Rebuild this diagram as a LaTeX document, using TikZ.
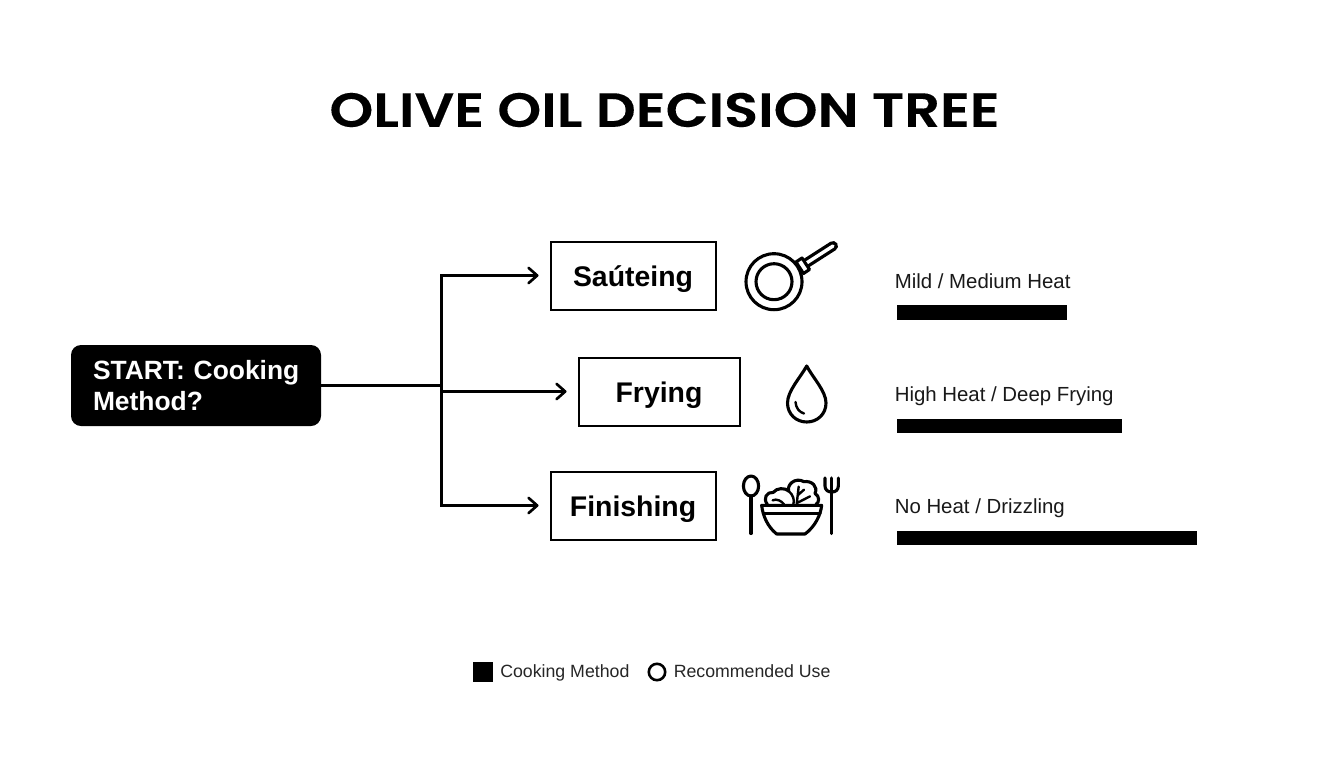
\documentclass[tikz,border=0pt]{standalone}
\usepackage{fontspec}
\setmainfont{Liberation Sans}
\newfontfamily\titlefont[FakeStretch=1.165,FakeBold=0.15]{Poppins SemiBold}
\newfontfamily\boxfont{Liberation Sans}
\usetikzlibrary{arrows.meta,calc}
\tikzset{
 page/.style={x=0.75pt,y=-0.75pt},
 method/.style={draw=black,line width=2pt*0.75,fill=white,inner sep=0pt,text=black,text height=20pt,text depth=4pt,font=\boxfont\bfseries\fontsize{21.3}{24}\selectfont},
 link/.style={line width=2.5pt*0.75,draw=black},
 arrowlink/.style={link,-{Straight Barb[length=6.5pt,width=11.5pt,line width=2pt,round]},shorten >=11*0.75pt},
 heat/.style={anchor=base west,inner sep=0pt,font=\fontsize{15.3}{18}\selectfont,text=black!90},
 bar/.style={fill=black,draw=none},
 icon/.style={draw=black,line width=3.1pt*0.75,line cap=round,line join=round},
 thinicon/.style={icon,line width=2.4pt*0.75},
 legendtext/.style={anchor=base west,inner sep=0pt,font=\fontsize{13.3}{16}\selectfont,text=black!85},
}
\begin{document}
\begin{tikzpicture}[page]
\useasboundingbox (0,0) rectangle (1344,768);
\fill[white] (0,0) rectangle (1344,768);
\node[font=\titlefont\fontsize{36}{42}\selectfont,inner sep=0pt] (title) at (664.5,110) {OLIVE OIL DECISION TREE};
\node[fill=black,rounded corners=7.5pt,minimum width=250*0.75pt,minimum height=81*0.75pt,inner sep=0pt,text=white,text width=154.5pt,font=\boxfont\bfseries\fontsize{19.8}{23.25}\selectfont,align=left] (start) at (196,385.5) {\mbox{START: Cooking}\\Method?};
\node[method,minimum width=165*0.75pt,minimum height=68*0.75pt] (saute) at (633,275.5) {Saúteing};
\node[method,minimum width=161*0.75pt,minimum height=68*0.75pt] (fry) at (659,391.5) {Frying};
\node[method,minimum width=165*0.75pt,minimum height=68*0.75pt] (finish) at (633,505.5) {Finishing};
\coordinate (trunk) at (441.5,385.5);
\draw[link] (start) -- (trunk);
\draw[arrowlink] (trunk) |- (saute);
\draw[arrowlink] (trunk) |- (fry);
\draw[arrowlink] (trunk) |- (finish);
% pan
\draw[icon] (774,281.7) circle (28);
\draw[icon] (774,281.7) circle (18);
\draw[line width=10*0.75pt,line cap=round,black] (806.5,263) -- (833,246);
\draw[line width=3.4*0.75pt,line cap=round,white] (806.5,263) -- (833,246);
\draw[icon,fill=white] (796,262) -- (802,258) -- (809.5,269.5) -- (803.5,273.5) -- cycle;
% drop
\draw[icon] (806.7,366) .. controls (800,378) and (787.5,391) .. (787.5,403) .. controls (787.5,414) and (796,422) .. (806.7,422) .. controls (817.5,422) and (826,414) .. (826,403) .. controls (826,391) and (813,378) .. (806.7,366) -- cycle;
\draw[thinicon] (795.5,402) .. controls (796,408) and (799,412) .. (804,413.5);
% spoon
\draw[icon] (751,486) ellipse (7.6 and 10);
\draw[icon] (751,496) -- (751,533.5);
% fork
\draw[icon] (825,478) -- (825,486) .. controls (825,490) and (828,492) .. (831.7,492) .. controls (835.5,492) and (838.3,490) .. (838.3,486) -- (838.3,478);
\draw[icon] (831.7,478) -- (831.7,533.5);
% salad, drawn in units of a third of a pixel
\begin{scope}[shift={(730,355)},x=0.25pt,y=-0.25pt]
\draw[icon] (112,448) .. controls (98,430) and (110,410) .. (130,412) .. controls (140,398) and (165,398) .. (176,408) .. controls (170,390) and (195,365) .. (222,380) .. controls (245,376) and (265,395) .. (255,415) .. controls (270,425) and (268,442) .. (258,448);
\draw[thinicon] (176,408) .. controls (190,420) and (194,436) .. (190,448);
\draw[thinicon] (128,436) .. controls (140,430) and (155,438) .. (162,448);
\draw[thinicon] (206,395) -- (200,448) (204,420) -- (222,404) (201,444) -- (240,424);
\draw[icon,fill=white] (95,451) -- (275,451) .. controls (272,480) and (255,515) .. (225,537) -- (140,537) .. controls (112,515) and (98,480) .. (95,451) -- cycle;
\draw[icon] (100,475) -- (270,475);
\end{scope}
% heat rows
\node[heat] (h1) at (894.5,288) {Mild / Medium Heat};
\node[heat] (h2) at (894.5,401) {High Heat / Deep Frying};
\node[heat] (h3) at (894.5,513) {No Heat / Drizzling};
\fill[bar] (897,305) rectangle (1067,320);
\fill[bar] (897,419) rectangle (1122,433);
\fill[bar] (897,531) rectangle (1197,545);
% legend
\fill[black] (473,662) rectangle (492.5,681.5);
\node[legendtext] (l1) at (500,677) {Cooking Method};
\draw[black,line width=2.6pt*0.75] (657,672) circle (8.2);
\node[legendtext] (l2) at (673.5,677) {Recommended Use};
\end{tikzpicture}
\end{document}
